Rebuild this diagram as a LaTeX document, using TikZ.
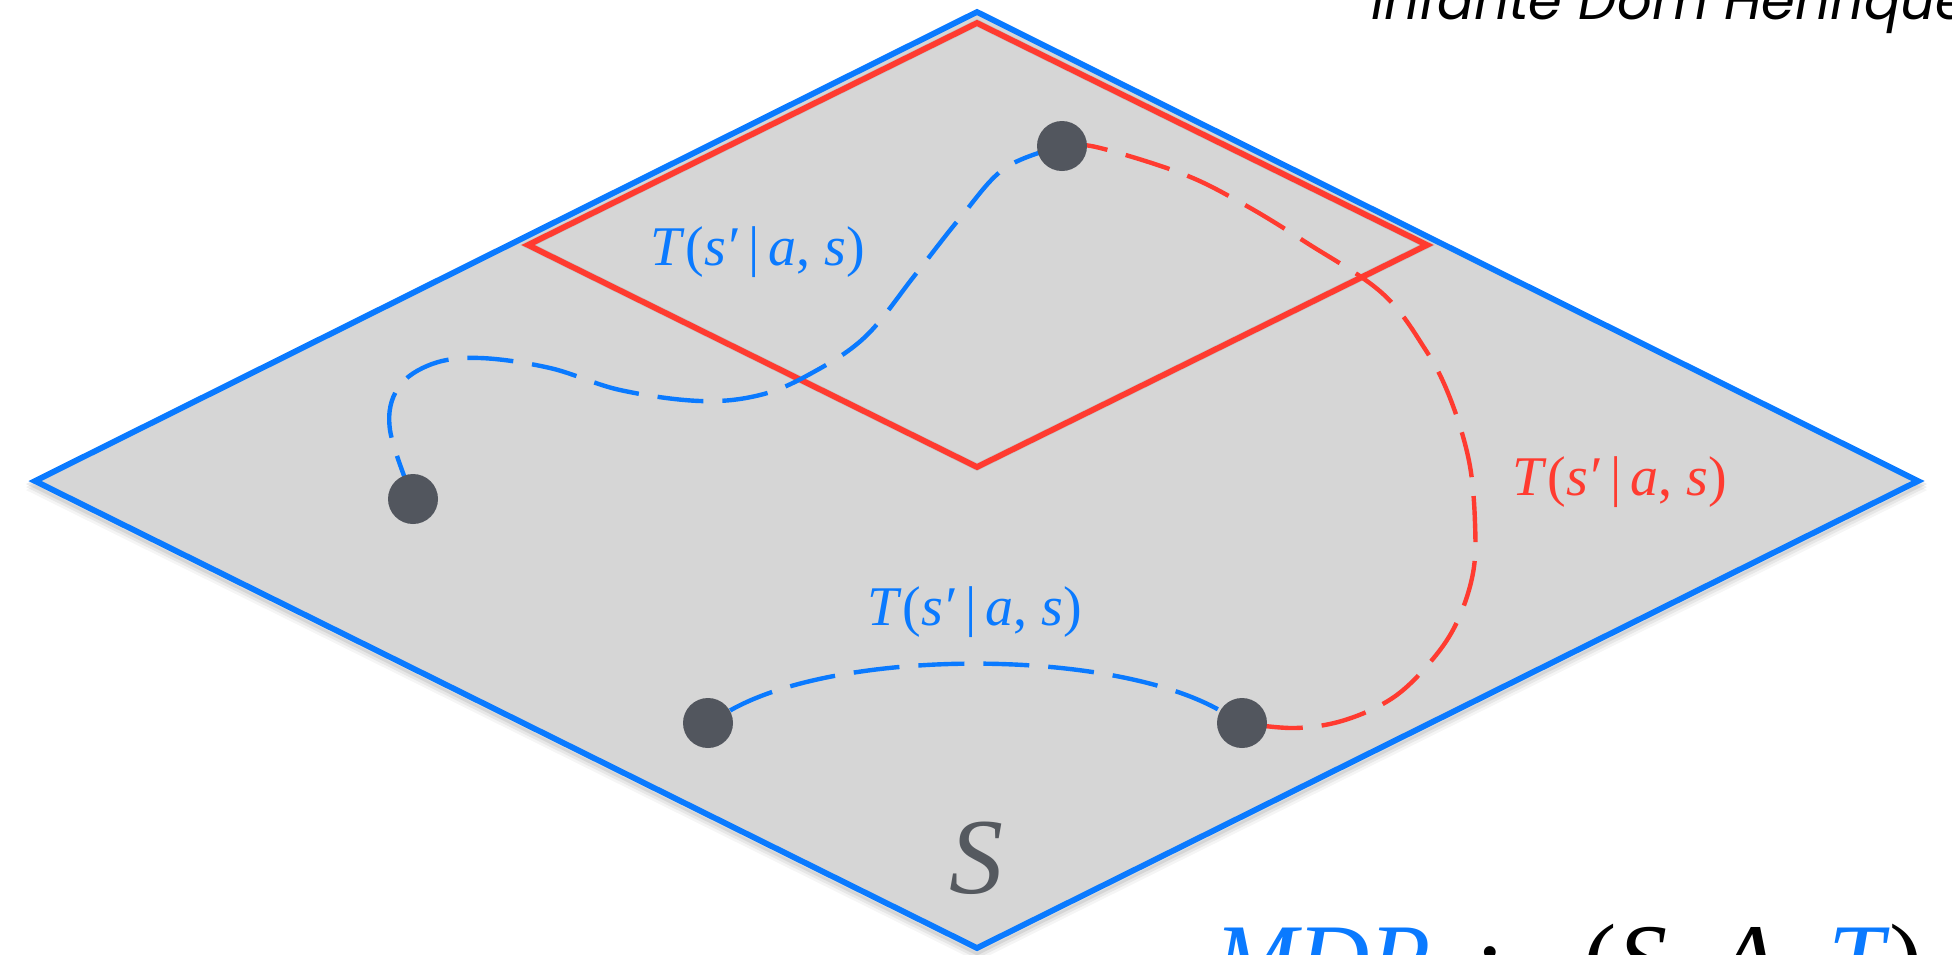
\documentclass[tikz,border=0pt]{standalone}
\usepackage{fontspec}
\setmainfont{Liberation Serif}
\newfontfamily\popfont{Poppins}
\definecolor{appblue}{HTML}{0A7AFF}
\definecolor{appred}{HTML}{FF3B30}
\definecolor{planegray}{HTML}{D6D6D6}
\definecolor{dotgray}{HTML}{52565E}
\definecolor{sgray}{HTML}{55595F}
\pgfdeclarelayer{bg}
\pgfsetlayers{bg,main}
\begin{document}
\begin{tikzpicture}[x=0.5pt,y=-0.5pt,
  dotnode/.style={circle,fill=dotgray,minimum size=25pt,inner sep=0pt},
  planeedge/.style={line width=2.9pt,line join=miter},
  bluedash/.style={appblue,line width=2.2pt,dash pattern=on 23pt off 9.5pt},
  reddash/.style={appred,line width=2.2pt,dash pattern=on 23pt off 9.5pt},
  lbl/.style={inner sep=0pt,anchor=base,font=\fontsize{28}{32}\selectfont},
]
\useasboundingbox (0,0) rectangle (1952,954);
% dots
\node[dotnode] (d1) at (1062,146) {};
\node[dotnode] (d2) at (413,499) {};
\node[dotnode] (d3) at (708,723) {};
\node[dotnode] (d4) at (1242,723) {};
\begin{pgfonlayer}{bg}
% shadow of the plane
\foreach \o/\op in {9/0.04,6/0.06,3/0.08}{
  \begin{scope}[shift={(0,\o)}]
    \draw[black,opacity=\op,line width=4pt] (977,12) -- (1918,481) -- (977,948) -- (35,481) -- cycle;
  \end{scope}}
\coordinate (Bt) at (977,12);
\coordinate (Br) at (1918,481);
\coordinate (Bb) at (977,948);
\coordinate (Bl) at (35,481);
\filldraw[planeedge,draw=appblue,fill=planegray] (Bt) -- (Br) -- (Bb) -- (Bl) -- cycle;
\coordinate (Rt) at (977,23);
\coordinate (Rr) at (1427,245);
\coordinate (Rb) at (977,467);
\coordinate (Rl) at (528,245);
\begin{scope}[shift={(0,4)}]
  \draw[black,opacity=0.08,line width=3.5pt] (Rt) -- (Rr) -- (Rb) -- (Rl) -- cycle;
\end{scope}
\draw[planeedge,draw=appred] (Rt) -- (Rr) -- (Rb) -- (Rl) -- cycle;
% curves
\draw[bluedash] plot[smooth,tension=0.6] coordinates {(d2) (390,430) (398,388) (432,364) (480,358) (550,368) (620,390) (700,401) (760,395) (810,374) (865,337) (915,275) (960,218) (1005,168) (d1)};
\draw[reddash] plot[smooth,tension=0.6] coordinates {(d1) (1096,147) (1183,174) (1245,205) (1307,243) (1382,293) (1425,349) (1450,398) (1469,461) (1475,523) (1473,573) (1457,622) (1432,660) (1394,697) (1345,720) (1295,728) (d4)};
\draw[bluedash] (d3) .. controls (840,648) and (1110,648) .. (d4);
\end{pgfonlayer}
% labels
\node[lbl,text=appblue] (l1) at (758,265) {\textit{T}(\textit{s′}\,|\,\textit{a}, \textit{s})};
\node[lbl,text=appred] (l2) at (1620,495) {\textit{T}(\textit{s′}\,|\,\textit{a}, \textit{s})};
\node[lbl,text=appblue] (l3) at (975,625) {\textit{T}(\textit{s′}\,|\,\textit{a}, \textit{s})};
\node[inner sep=0pt,anchor=base,text=sgray,font=\fontsize{54}{60}\selectfont\itshape] (s) at (976,893) {S};
\node[inner sep=0pt,anchor=base west,font=\fontsize{50}{56}\selectfont] (mdp) at (1214,993)
  {\textcolor{appblue}{\textit{MDP}}\hspace{0.45em}:\hspace{0.8em}(\textit{S}, \textit{A}, \textcolor{appblue}{\textit{T}})};
\node[inner sep=0pt,anchor=base west,font=\popfont\itshape\fontsize{27.2}{31}\selectfont] (title) at (1371,19) {Infante Dom Henrique};
\end{tikzpicture}
\end{document}
